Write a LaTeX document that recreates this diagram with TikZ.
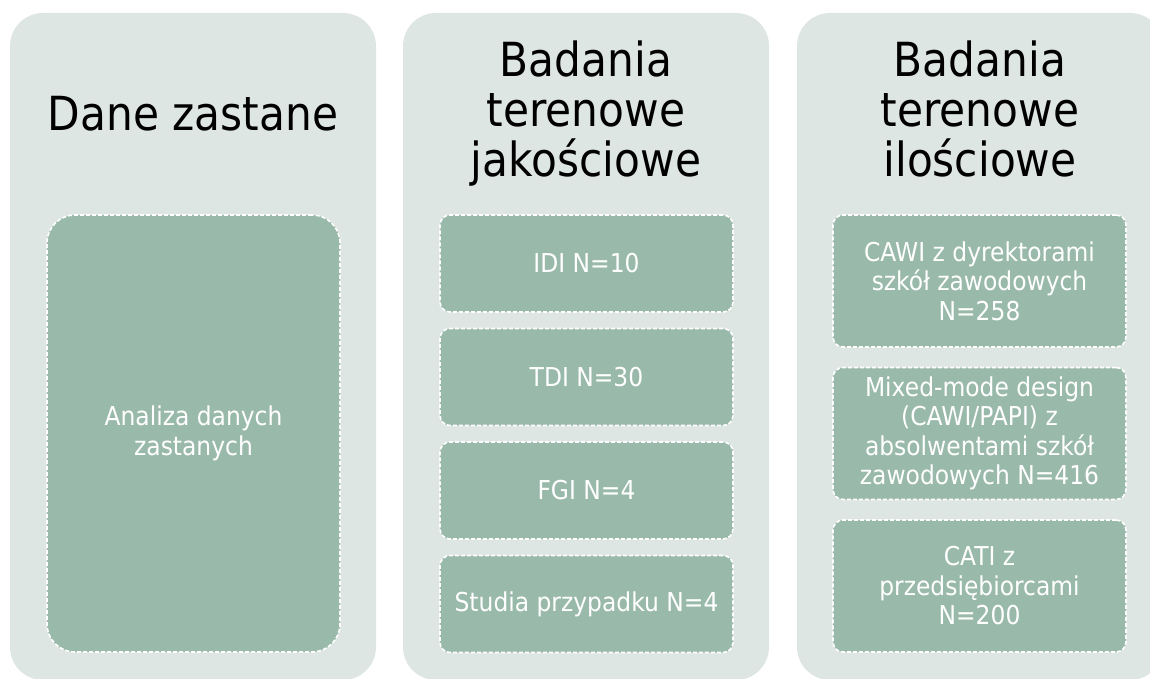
\documentclass[tikz,border=0pt]{standalone}
\usepackage{fontspec}
\setmainfont{DejaVu Sans}[FakeStretch=0.9]
\usepackage{tikz}
\definecolor{panelgrey}{HTML}{DEE6E3}
\definecolor{boxgreen}{HTML}{99B9AB}

\begin{document}
\begin{tikzpicture}[x=1pt,y=-1pt,
  panel/.style={fill=panelgrey,rounded corners=33pt,
    minimum width=366pt,minimum height=667pt,inner sep=0pt},
  heading/.style={align=center,inner sep=0pt,font=\fontsize{47}{50}\selectfont},
  item/.style={fill=boxgreen,draw=white,dash pattern=on 4pt off 2pt,
    line width=1.6pt,rounded corners=10pt,minimum width=293pt,inner sep=0pt,
    align=center,text=white,font=\fontsize{26}{29.5}\selectfont}]
\useasboundingbox (0,0) rectangle (1150,679);
% panels
\node[panel] (dane) at (193,346.5) {};
\node[panel] (jakosc) at (586,346.5) {};
\node[panel] (ilosc) at (980,346.5) {};
% headings
\node[heading] (danetitle) at (193,114) {Dane zastane};
\node[heading,anchor=north] (jakosctitle) at (586,41) {Badania\\terenowe\\jakościowe};
\node[heading,anchor=north] (ilosctitle) at (980,41) {Badania\\terenowe\\ilościowe};
% first column
\node[item,minimum height=437pt,rounded corners=28pt] (analiza) at (193.5,433.5) {Analiza danych\\zastanych};
% second column
\node[item,minimum height=97pt] (idi) at (586.5,263.5) {IDI N=10};
\node[item,minimum height=97pt] (tdi) at (586.5,377) {TDI N=30};
\node[item,minimum height=97pt] (fgi) at (586.5,490.5) {FGI N=4};
\node[item,minimum height=97pt] (studia) at (586.5,604) {Studia przypadku N=4};
% third column
\node[item,minimum height=132pt] (cawi) at (979.5,281) {CAWI z dyrektorami\\szkół zawodowych\\N=258};
\node[item,minimum height=132pt] (mixed) at (979.5,433.5) {Mixed-mode design\\(CAWI/PAPI) z\\absolwentami szkół\\zawodowych N=416};
\node[item,minimum height=132pt] (cati) at (979.5,586) {CATI z\\przedsiębiorcami\\N=200};
\end{tikzpicture}
\end{document}
